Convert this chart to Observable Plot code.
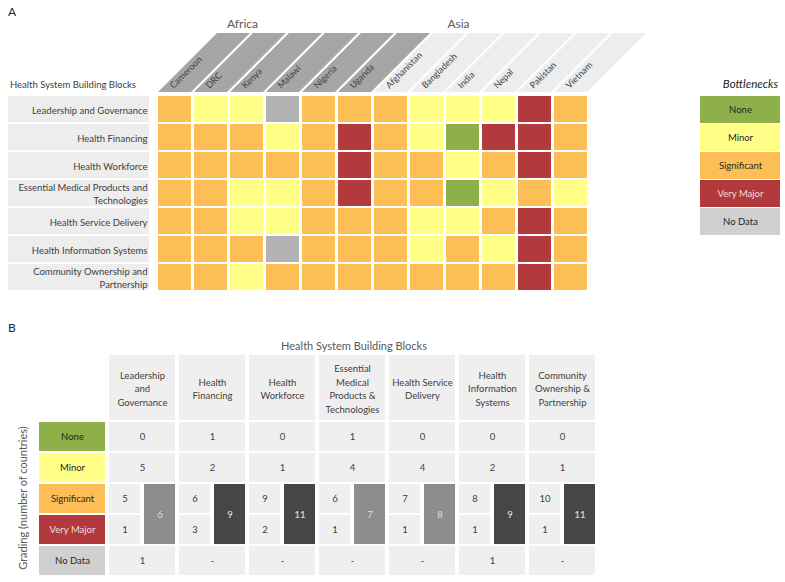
<!DOCTYPE html>
<html><head><meta charset="utf-8">
<script src="https://cdn.jsdelivr.net/npm/d3@7"></script>
<script src="https://cdn.jsdelivr.net/npm/@observablehq/plot@0.6"></script>
<style>
body{margin:0;background:#fff;font-family:Lato,"Open Sans",sans-serif;}
#root{position:relative;width:785px;height:582px;overflow:hidden;}
#root > svg, #root > .abs{position:absolute;}
.abs{white-space:nowrap;color:#404040;line-height:1;}
</style></head><body><div id="root"></div>
<script>
// ---------- Data ----------
const africa = ["Cameroon","DRC","Kenya","Malawi","Nigeria","Uganda"];
const asia = ["Afghanistan","Bangladesh","India","Nepal","Pakistan","Vietnam"];
const countries = [...africa, ...asia];
const blocks = ["Leadership and Governance","Health Financing","Health Workforce",
  "Essential Medical Products and\nTechnologies","Health Service Delivery",
  "Health Information Systems","Community Ownership and\nPartnership"];
const levels = ["None","Minor","Significant","Very Major","No Data"];
const levelCodes = {N:"None", m:"Minor", S:"Significant", V:"Very Major", D:"No Data"};
// one array per building block, countries in order above
const leadership  = ["S","m","m","D","S","S","S","m","m","m","V","S"];
const financing   = ["S","S","S","m","S","V","S","m","N","V","V","S"];
const workforce   = ["S","S","S","S","S","V","S","S","m","S","V","S"];
const medical     = ["S","S","m","m","S","V","S","S","N","m","S","m"];
const service     = ["S","S","m","m","S","S","S","m","m","S","V","S"];
const information = ["S","S","S","D","S","S","S","m","S","m","V","S"];
const community   = ["S","S","m","S","S","S","S","S","S","S","V","S"];
const gradesA = [leadership, financing, workforce, medical, service, information, community];

// Panel B
const blockHeaders = ["Leadership\nand\nGovernance","Health\nFinancing","Health\nWorkforce",
  "Essential\nMedical\nProducts &\nTechnologies","Health Service\nDelivery",
  "Health\nInformation\nSystems","Community\nOwnership &\nPartnership"];
const noneCounts        = [0,1,0,1,0,0,0];
const minorCounts       = [5,2,1,4,4,2,1];
const significantCounts = [5,6,9,6,7,8,10];
const veryMajorCounts   = [1,3,2,1,1,1,1];
const noDataCounts      = [1,0,0,0,0,1,0];

// ---------- Styles ----------
const gridColors   = ["#8db04a","#ffff88","#fdbf55","#b2393c","#b3b3b3"];
const legendColors = ["#8db04a","#ffff88","#fdbf55","#b2393c","#d0d0d0"];
const textCol = "#404040";
const font = "Lato, 'Open Sans', sans-serif";

const root = document.getElementById("root");
function addText(txt, css){
  const d = document.createElement("div"); d.className = "abs"; d.textContent = txt;
  Object.assign(d.style, css); root.appendChild(d); return d;
}

// ---------- Panel A ----------
const gridData = blocks.flatMap((b, i) => gradesA[i].map((c, j) => ({block: b, country: countries[j], level: levelCodes[c]})));

const plotA = Plot.plot({
  width: 785, height: 300,
  marginLeft: 152, marginRight: 192, marginTop: 94, marginBottom: 7,
  style: {fontFamily: font, background: "none", overflow: "visible"},
  x: {domain: countries, paddingInner: 0.08, paddingOuter: 0, axis: null},
  y: {domain: blocks, paddingInner: 0.07, paddingOuter: 0, axis: null},
  color: {domain: levels, range: gridColors},
  marks: [
    Plot.cell(blocks, {y: d => d, fill: "#ededed", insetLeft: -144, insetRight: 444}),
    Plot.text(blocks, {y: d => d, text: d => d, frameAnchor: "left", dx: -5, textAnchor: "end",
      lineHeight: 1.4, fontSize: 9.5, fill: textCol}),
    Plot.cell(gridData, {x: "country", y: "block", fill: "level"})
  ]
});
plotA.style.left = "0px"; plotA.style.top = "0px";
root.appendChild(plotA);

const xs = plotA.scale("x");
const svgA = d3.select(plotA);
const gh = svgA.append("g");
const yb = 92, yt = 33, hh = yb - yt, bw = xs.bandwidth;
countries.forEach(c => {
  const x0 = xs.apply(c);
  gh.append("path")
    .attr("d", `M${x0},${yb}L${x0 + bw},${yb}L${x0 + bw + hh},${yt}L${x0 + hh},${yt}Z`)
    .attr("fill", africa.includes(c) ? "#a6a6a6" : "#ededed");
  gh.append("text")
    .attr("transform", `translate(${x0 + bw / 2 - 1},${yb - 3}) rotate(-45)`)
    .attr("text-anchor", "start")
    .attr("font-size", 9).attr("fill", textCol).attr("font-family", font)
    .text(c);
});
[["Africa", africa], ["Asia", asia]].forEach(([name, group]) => {
  gh.append("text")
    .attr("x", xs.apply(group[2]) + bw / 2 - 4).attr("y", 28)
    .attr("text-anchor", "middle").attr("font-size", 12).attr("fill", "#595959")
    .attr("font-family", font).text(name);
});

addText("A", {left: "8px", top: "6px", fontSize: "12px", color: "#262626"});
addText("Health System Building Blocks", {left: "10px", top: "80px", fontSize: "9.5px"});

// Legend
const legend = Plot.plot({
  width: 80, height: 142, margin: 0,
  style: {fontFamily: font, background: "none"},
  y: {domain: levels, paddingInner: 0.05, paddingOuter: 0, axis: null},
  color: {domain: levels, range: legendColors},
  marks: [
    Plot.cell(levels, {y: d => d, fill: d => d}),
    Plot.text(levels, {filter: d => d !== "Very Major", y: d => d, text: d => d, fontSize: 9.5, fill: "#262626"}),
    Plot.text(levels, {filter: d => d === "Very Major", y: d => d, text: d => d, fontSize: 9.5, fill: "#f2dcdb"})
  ]
});
legend.style.left = "700px"; legend.style.top = "94px";
root.appendChild(legend);
addText("Bottlenecks", {right: "7px", top: "78px", fontSize: "11.5px", fontStyle: "italic", color: "#262626"});

// ---------- Panel B ----------
const frameH = 282 - 122 - 7;
const bStep = frameH / (levels.length - 0.07);
const fullRows = blockHeaders.flatMap((h, i) => [
  {block: h, grade: "None", value: String(noneCounts[i])},
  {block: h, grade: "Minor", value: String(minorCounts[i])},
  {block: h, grade: "No Data", value: noDataCounts[i] === 0 ? "-" : String(noDataCounts[i])}
]);
const splitRows = blockHeaders.flatMap((h, i) => [
  {block: h, grade: "Significant", value: significantCounts[i]},
  {block: h, grade: "Very Major", value: veryMajorCounts[i]}
]);
const totals = blockHeaders.map((h, i) => ({block: h, total: significantCounts[i] + veryMajorCounts[i]}));

const plotB = Plot.plot({
  width: 785, height: 282,
  marginLeft: 38, marginRight: 189, marginTop: 122, marginBottom: 7,
  style: {fontFamily: font, background: "none", overflow: "visible"},
  fx: {domain: ["grade", ...blockHeaders], paddingInner: 0.057, paddingOuter: 0, axis: null, label: null},
  x: {domain: ["count", "total"], paddingInner: 0.12, paddingOuter: 0, axis: null},
  y: {domain: levels, paddingInner: 0.07, paddingOuter: 0, axis: null},
  color: {domain: levels, range: legendColors},
  marks: [
    // header boxes
    Plot.rect(blockHeaders, {fx: d => d, fill: "#efefef", insetTop: -67, insetBottom: frameH + 2}),
    Plot.text(blockHeaders, {fx: d => d, text: d => d, frameAnchor: "top", lineAnchor: "middle", dy: -34.5,
      lineHeight: 1.45, fontSize: 9.5, fill: textCol}),
    // grade label column
    Plot.cell(levels, {fx: () => "grade", y: d => d, fill: d => d}),
    Plot.text(levels, {filter: d => d !== "Very Major", fx: () => "grade", y: d => d, text: d => d, fontSize: 9.5, fill: "#262626"}),
    Plot.text(levels, {filter: d => d === "Very Major", fx: () => "grade", y: d => d, text: d => d, fontSize: 9.5, fill: "#f2dcdb"}),
    // full-width counts
    Plot.cell(fullRows, {fx: "block", y: "grade", fill: "#efefef"}),
    Plot.text(fullRows, {fx: "block", y: "grade", text: "value", fontSize: 9.5, fill: textCol}),
    // split counts
    Plot.cell(splitRows, {fx: "block", x: () => "count", y: "grade", fill: "#efefef"}),
    Plot.text(splitRows, {fx: "block", x: () => "count", y: "grade", text: "value", fontSize: 9.5, fill: textCol}),
    // totals bars spanning Significant + Very Major
    Plot.cell(totals, {filter: d => d.total < 9, fx: "block", x: () => "total", y: () => "Significant", insetBottom: -bStep, fill: "#8d8d8d"}),
    Plot.cell(totals, {filter: d => d.total >= 9, fx: "block", x: () => "total", y: () => "Significant", insetBottom: -bStep, fill: "#464646"}),
    Plot.text(totals, {filter: d => d.total < 9, fx: "block", x: () => "total", y: () => "Significant", dy: bStep / 2, text: "total", fontSize: 9.5, fill: "#dedede"}),
    Plot.text(totals, {filter: d => d.total >= 9, fx: "block", x: () => "total", y: () => "Significant", dy: bStep / 2, text: "total", fontSize: 9.5, fill: "#e6e6e6"})
  ]
});
plotB.style.left = "0px"; plotB.style.top = "300px";
root.appendChild(plotB);

addText("B", {left: "8px", top: "322px", fontSize: "12px", color: "#262626"});
addText("Health System Building Blocks", {left: "354px", top: "340px", fontSize: "11px", transform: "translateX(-50%)", color: "#595959"});
addText("Grading (number of countries)", {left: "22px", top: "498px", fontSize: "11px", color: "#595959", transform: "translate(-50%,-50%) rotate(-90deg)"});
</script></body></html>
